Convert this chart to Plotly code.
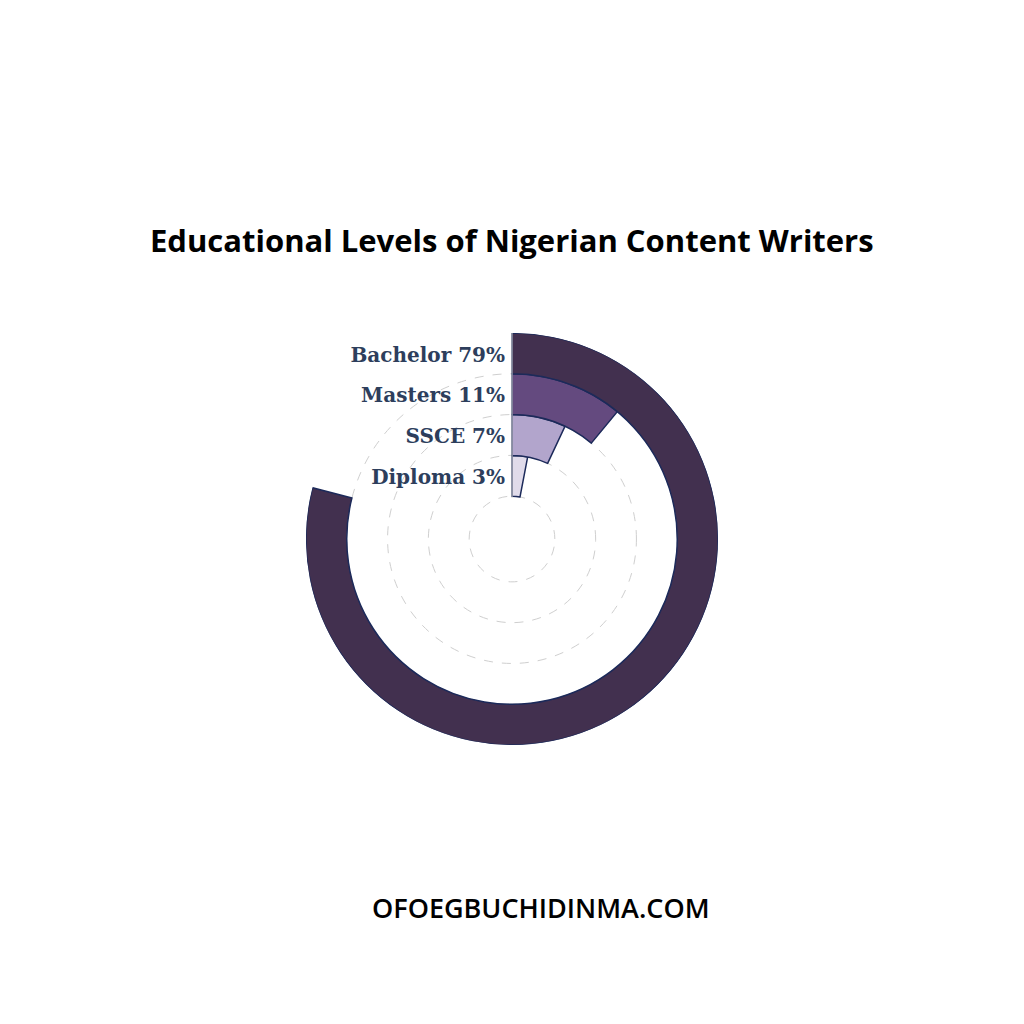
import plotly.graph_objects as go

# education level shares (%) - innermost ring first
levels = ["Diploma", "SSCE", "Masters", "Bachelor"]
shares = [3, 7, 11, 79]
ring_pos = [0, 1, 2, 3]
colors = ["#e0dbea", "#b2a5cc", "#644a7f", "#42304f"]

TITLE = "Educational Levels of Nigerian Content Writers"
FOOTER = "OFOEGBUCHIDINMA.COM"

def main():
    fig = go.Figure()

    # each ring is one bar spanning share% of the full circle
    fig.add_trace(go.Barpolar(
        r=[1] * len(levels),
        base=ring_pos,
        theta=[s * 3.6 / 2 for s in shares],
        width=[s * 3.6 for s in shares],
        marker=dict(color=colors, line=dict(color="#1c2a5a", width=1.5)),
        hoverinfo="skip",
        showlegend=False,
    ))

    # labels sit just left of the 12 o'clock axis, one per ring
    fig.add_trace(go.Scatterpolar(
        r=[p + 0.42 for p in ring_pos],
        theta=[0] * len(levels),
        mode="text",
        text=[f"{l} {s}%\u00a0" for l, s in zip(levels, shares)],
        textposition="middle left",
        textfont=dict(family="DejaVu Serif", size=20, color="#2d3e5c", weight="bold"),
        hoverinfo="skip",
        showlegend=False,
    ))

    # page body has an 8px margin, so the figure is 1008 square
    fig.update_layout(
        width=1008,
        height=1008,
        paper_bgcolor="white",
        plot_bgcolor="white",
        margin=dict(l=0, r=0, t=0, b=0),
        polar=dict(
            domain=dict(x=[0.2956, 0.7044], y=[0.2688, 0.6776]),
            bgcolor="white",
            hole=0.2,
            barmode="overlay",
            radialaxis=dict(
                range=[-0.04, 4],
                tickvals=[0, 1, 2, 3],
                showticklabels=False,
                ticks="",
                angle=90,
                showline=True,
                linecolor="#cccccc",
                linewidth=1,
                gridcolor="#cfcfcf",
                griddash="dash",
                gridwidth=1,
            ),
            angularaxis=dict(
                rotation=90,
                direction="clockwise",
                showgrid=False,
                showline=False,
                showticklabels=False,
                ticks="",
            ),
        ),
        annotations=[
            dict(text=f"<b>{TITLE}</b>", x=0.5, y=0.7698, xref="paper", yref="paper",
                 xanchor="center", yanchor="middle", showarrow=False,
                 font=dict(family="Open Sans", size=31, color="#000000")),
            dict(text=FOOTER, x=0.5288, y=0.1081, xref="paper", yref="paper",
                 xanchor="center", yanchor="middle", showarrow=False,
                 font=dict(family="Open Sans", size=27, color="#000000", weight=600)),
        ],
    )

    fig.write_html("out.html")

if __name__ == "__main__":
    main()
